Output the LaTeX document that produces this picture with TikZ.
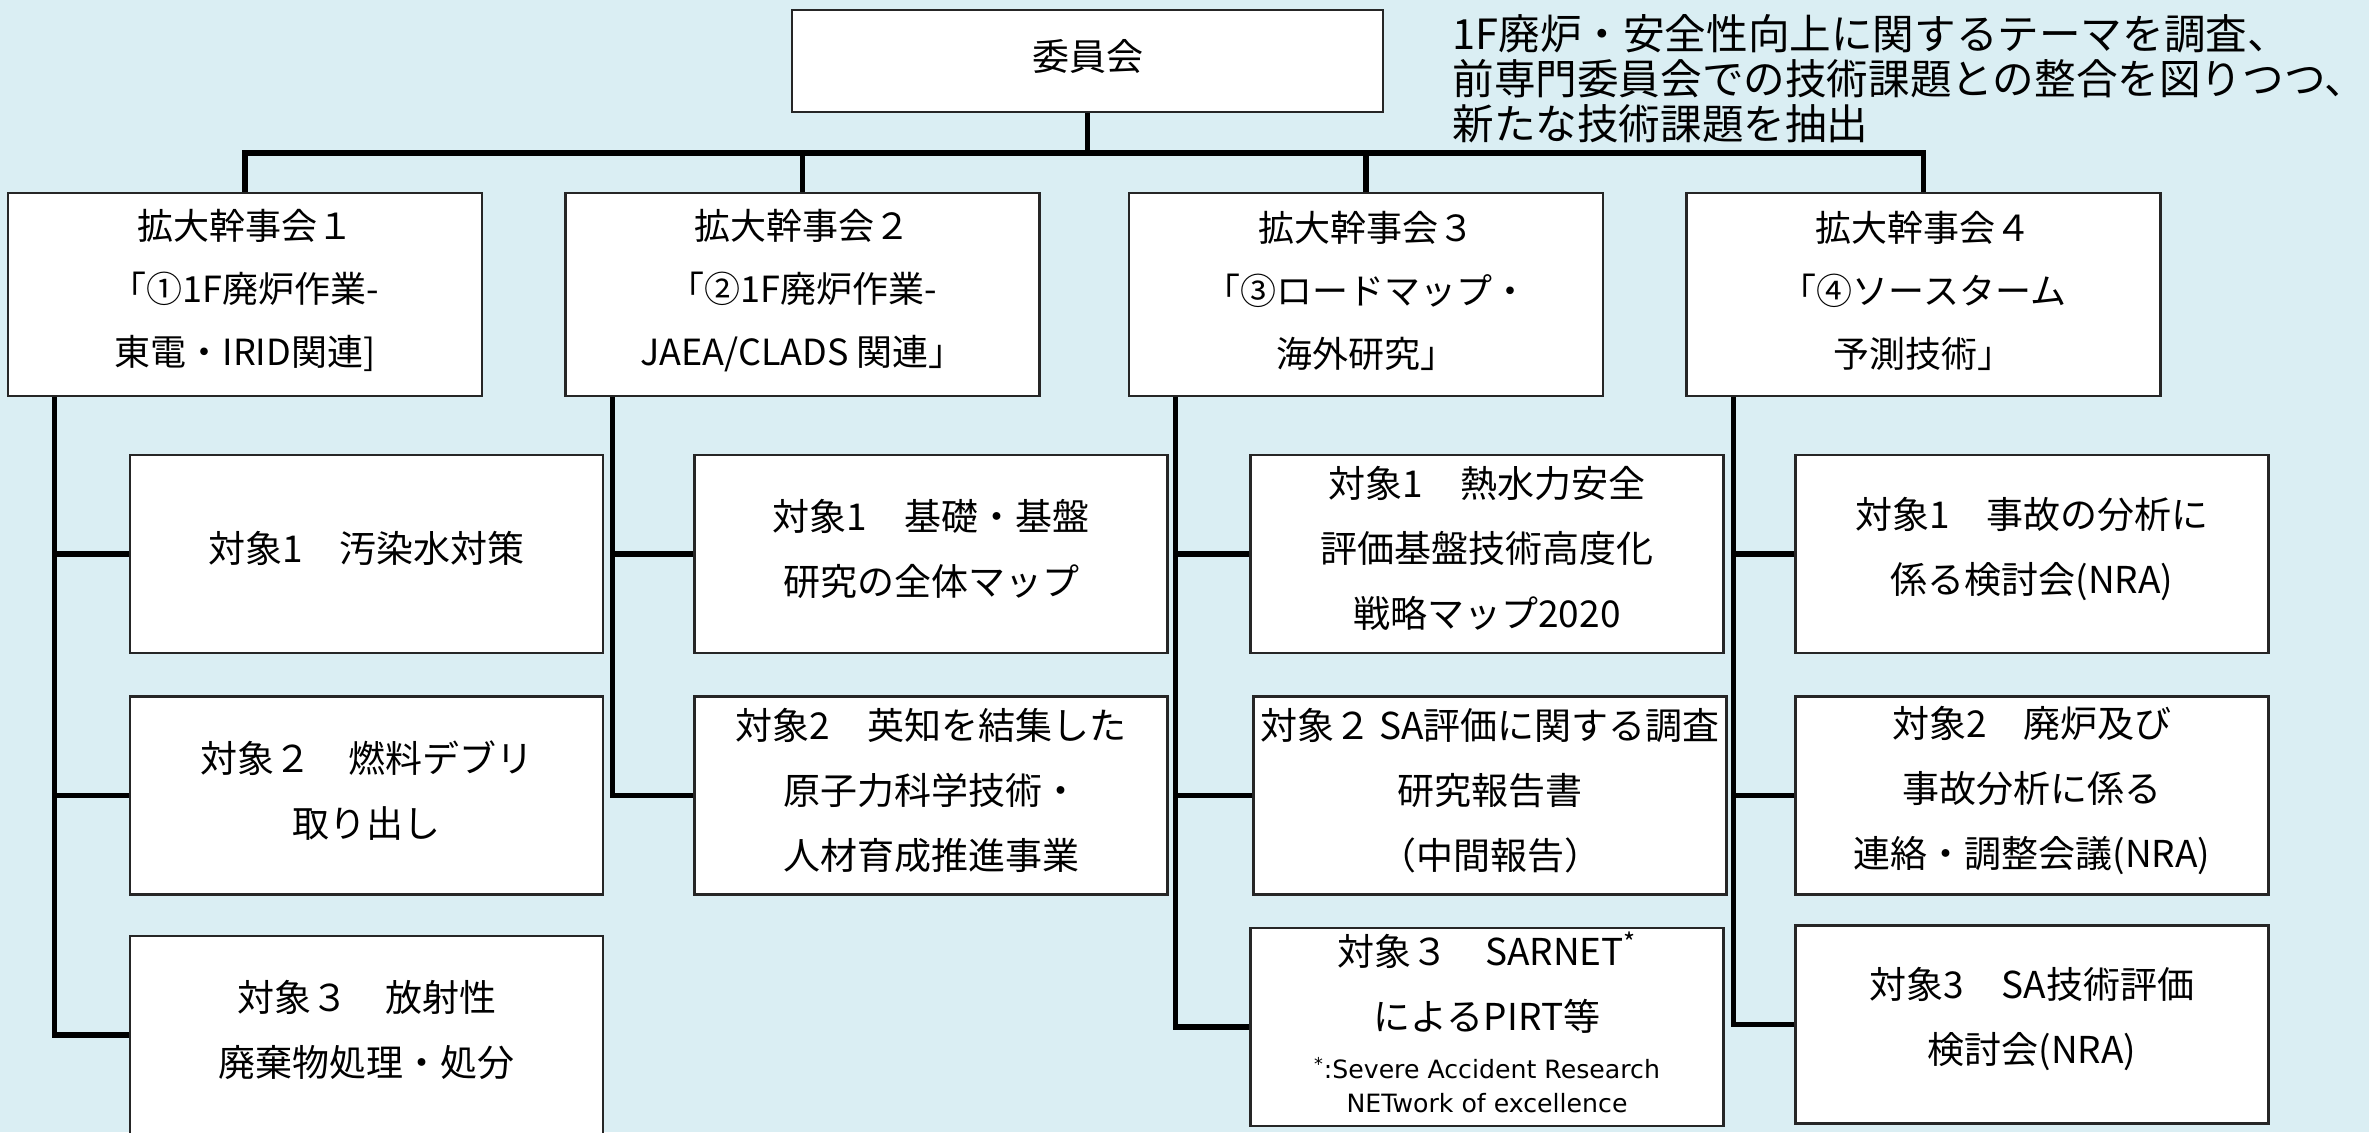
\documentclass[tikz,border=0pt]{standalone}
\usepackage{fontspec}
\setmainfont{Noto Sans CJK JP}
\newfontfamily\notelatin{DejaVu Sans}
\definecolor{bgblue}{HTML}{DAEEF3}
\tikzset{
  boxbase/.style={draw=black!85, line width=1.2pt, fill=white, inner sep=0pt, align=center},
  topbox/.style={boxbase, minimum width=295.5pt, minimum height=51pt},
  lvltwo/.style={boxbase, minimum width=237pt, minimum height=101.5pt},
  lvlthree/.style={boxbase, minimum width=236.5pt, minimum height=99pt},
  lbltop/.style={inner sep=0pt, align=center, yshift=2pt, font=\fontsize{18.5pt}{32pt}\selectfont},
  lbltwo/.style={inner sep=0pt, align=center, yshift=2pt, font=\fontsize{18pt}{31.5pt}\selectfont},
  lblthree/.style={inner sep=0pt, align=center, yshift=2.6pt, font=\fontsize{18.5pt}{32.5pt}\selectfont},
  ttop/.style={label={[lbltop]center:{#1}}},
  ttwo/.style={label={[lbltwo]center:{#1}}},
  tthree/.style={label={[lblthree]center:{#1}}},
  conn/.style={line width=2.6pt, black, line join=miter},
  plaintext/.style={inner sep=0pt, align=center},
}
\begin{document}
\begin{tikzpicture}[x=0.5pt,y=-0.5pt]
\fill[bgblue] (0,0) rectangle (2369,1132);
\useasboundingbox (0,0) rectangle (2369,1132);

% top
\node[topbox, ttop={委員会}] (top) at (1087.5,61) {};
\node[plaintext, anchor=north west, align=left, font=\fontsize{20.8pt}{22.6pt}\selectfont] (note) at (1452,14)
  {1F廃炉・安全性向上に関するテーマを調査、\\前専門委員会での技術課題との整合を図りつつ、\\新たな技術課題を抽出};

% level 2
\node[lvltwo, ttwo={拡大幹事会１\\「①1F廃炉作業-\\東電・IRID関連]}] (l2a) at (245,294.5) {};
\node[lvltwo, ttwo={拡大幹事会２\\「②1F廃炉作業-\\JAEA/CLADS 関連」}] (l2b) at (802.5,294.5) {};
\node[lvltwo, ttwo={拡大幹事会３\\「③ロードマップ・\\海外研究」}] (l2c) at (1366,294.5) {};
\node[lvltwo, ttwo={拡大幹事会４\\「④ソースターム\\予測技術」}] (l2d) at (1923.5,294.5) {};

% level 3, column 1
\node[lvlthree, tthree={対象1　汚染水対策}] (c1a) at (366.5,554) {};
\node[lvlthree, tthree={対象２　燃料デブリ\\取り出し}] (c1b) at (366.5,795.5) {};
\node[lvlthree, tthree={対象３　放射性\\廃棄物処理・処分}] (c1c) at (366.5,1035) {};
% column 2
\node[lvlthree, tthree={対象1　基礎・基盤\\研究の全体マップ}] (c2a) at (931,554) {};
\node[lvlthree, tthree={対象2　英知を結集した\\原子力科学技術・\\人材育成推進事業}] (c2b) at (931,795.5) {};
% column 3
\node[lvlthree, tthree={対象1　熱水力安全\\評価基盤技術高度化\\戦略マップ2020}] (c3a) at (1487,554) {};
\node[lvlthree, tthree={対象２ SA評価に関する調査\\研究報告書\\（中間報告）}] (c3b) at (1490,795.5) {};
\node[lvlthree] (c3c) at (1487,1027) {};
\node[plaintext, font=\fontsize{18.5pt}{20pt}\selectfont] (c3t1) at (1487,950) {対象３　SARNET\textsuperscript{*}};
\node[plaintext, font=\fontsize{18.5pt}{20pt}\selectfont] (c3t2) at (1487,1016) {によるPIRT等};
\node[plaintext, font=\notelatin\fontsize{12.6pt}{14pt}\selectfont] (c3t3) at (1487,1068) {\textsuperscript{*}:Severe Accident Research};
\node[plaintext, font=\notelatin\fontsize{12.6pt}{14pt}\selectfont] (c3t4) at (1487,1103) {NETwork of excellence};
% column 4
\node[lvlthree, tthree={対象1　事故の分析に\\係る検討会(NRA)}] (c4a) at (2032,554) {};
\node[lvlthree, tthree={対象2　廃炉及び\\事故分析に係る\\連絡・調整会議(NRA)}] (c4b) at (2032,795.5) {};
\node[lvlthree, tthree={対象3　SA技術評価\\検討会(NRA)}] (c4c) at (2032,1024.5) {};

% connectors: top to level 2
\coordinate (bus) at (1087.5,153);
\draw[conn] (top.south) -- (bus);
\draw[conn] (l2a.north) |- (bus) -| (l2d.north);
\draw[conn] (l2b.north) -- (l2b.north |- bus);
\draw[conn] (l2c.north) -- (l2c.north |- bus);

% connectors: level 2 to level 3
\draw[conn] ([xshift=24pt]l2a.south west) |- (c1a.west);
\draw[conn] ([xshift=24pt]l2a.south west) |- (c1b.west);
\draw[conn] ([xshift=24pt]l2a.south west) |- (c1c.west);
\draw[conn] ([xshift=24pt]l2b.south west) |- (c2a.west);
\draw[conn] ([xshift=24pt]l2b.south west) |- (c2b.west);
\draw[conn] ([xshift=24pt]l2c.south west) |- (c3a.west);
\draw[conn] ([xshift=24pt]l2c.south west) |- (c3b.west);
\draw[conn] ([xshift=24pt]l2c.south west) |- (c3c.west);
\draw[conn] ([xshift=24pt]l2d.south west) |- (c4a.west);
\draw[conn] ([xshift=24pt]l2d.south west) |- (c4b.west);
\draw[conn] ([xshift=24pt]l2d.south west) |- (c4c.west);
\end{tikzpicture}
\end{document}
